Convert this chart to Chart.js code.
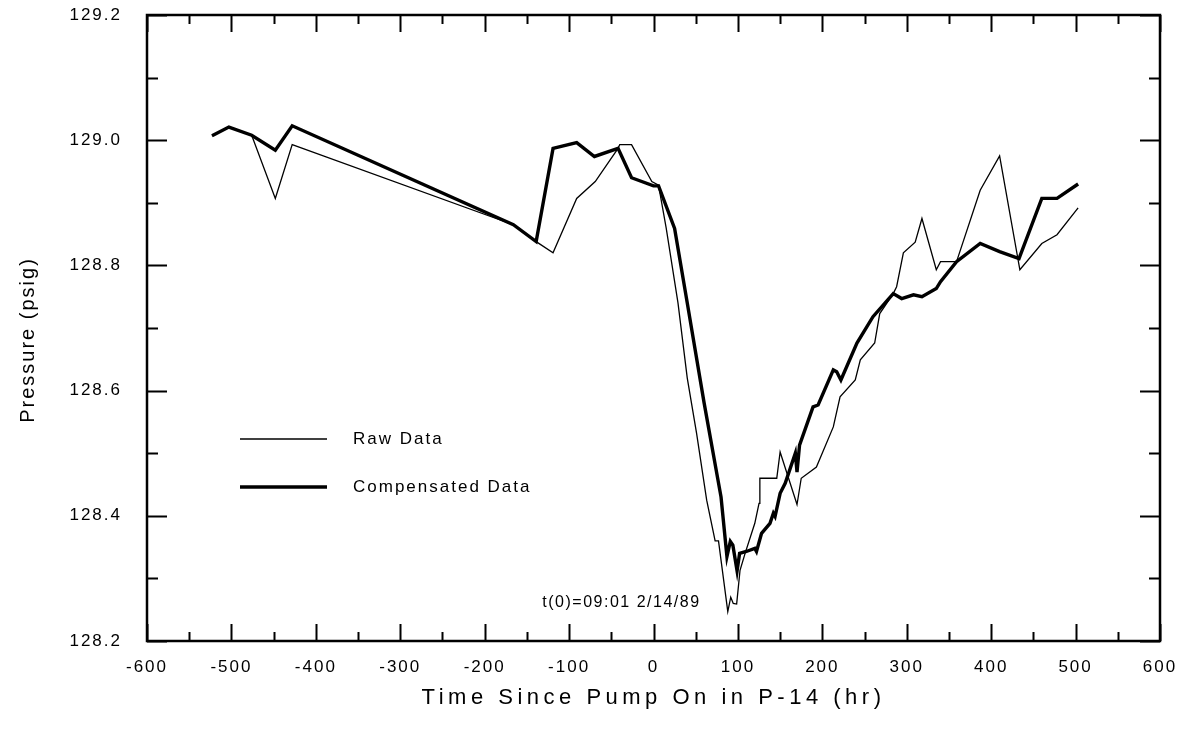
<!DOCTYPE html>
<html>
<head>
<meta charset="utf-8">
<title>Pressure vs time</title>
<script src="https://cdn.jsdelivr.net/npm/chart.js@4.4.1/dist/chart.umd.min.js"></script>
<style>
  body { margin: 0; background: #fff; }
  #chart-container { width: 1184px; height: 739px; }
</style>
</head>
<body>
<div id="chart-container"><canvas id="pressureChart" width="1184" height="739"></canvas></div>
<script>
// values
const rawHours = [-523, -503, -476, -448, -428, -166, -139, -119, -91, -69, -42, -40, -26, -2, 6,
    15, 29, 40, 51, 63, 73, 77, 88, 91.5, 94.5, 98.5, 102.5, 108.5, 120, 125, 126, 146, 150,
    170, 175, 193, 213, 221, 239, 245, 262, 268, 284, 288, 296, 310, 318, 335, 340, 359,
    387, 410, 434, 460, 478, 503];
const rawPsig = [129.007, 129.021, 129.008, 128.907, 128.993, 128.865, 128.838, 128.820, 128.907, 128.934, 128.987, 128.993, 128.993, 128.934, 128.928,
    128.86, 128.74, 128.62, 128.532, 128.425, 128.36, 128.36, 128.247, 128.27, 128.26, 128.259, 128.313, 128.34, 128.388, 128.42, 128.46, 128.46, 128.502,
    128.418, 128.46, 128.478, 128.542, 128.59, 128.617, 128.649, 128.676, 128.723, 128.755, 128.766, 128.82, 128.837, 128.875, 128.793, 128.806, 128.806,
    128.92, 128.975, 128.793, 128.835, 128.849, 128.892];

const compHours = [-523, -503, -476, -448, -428, -166, -139, -119, -91, -70, -42, -26, 0, 6,
    25, 40, 60, 76, 80, 87, 91, 94, 99, 102, 110, 120, 122, 128, 138, 142, 144, 150, 156,
    168, 170, 173, 189, 195, 213, 217, 222, 241, 260, 284, 294, 308, 318, 335, 340, 359,
    387, 410, 433, 460, 478, 503];
const compPsig = [129.007, 129.021, 129.008, 128.984, 129.023, 128.865, 128.838, 128.987, 128.996, 128.974, 128.987, 128.940, 128.927, 128.927,
    128.859, 128.74, 128.58, 128.46, 128.43, 128.335, 128.359, 128.353, 128.312, 128.34, 128.343, 128.348, 128.343, 128.372, 128.388, 128.404, 128.399, 128.436, 128.452,
    128.50, 128.47, 128.513, 128.574, 128.577, 128.633, 128.63, 128.617, 128.676, 128.718, 128.755, 128.747, 128.753, 128.75, 128.763, 128.774, 128.806,
    128.835, 128.822, 128.811, 128.907, 128.907, 128.93];

const seriesLabels = ['Raw Data', 'Compensated Data'];
const xTitle = 'Time Since Pump On in P-14 (hr)';
const yTitle = 'Pressure (psig)';
const startNote = 't(0)=09:01 2/14/89';

const FONT = '"Liberation Sans", Arial, sans-serif';

function toPoints(xs, ys) {
    return xs.map((x, i) => ({ x: x, y: ys[i] }));
}

// frame, inward ticks, titles, legend and note
const decorations = {
    id: 'decorations',
    beforeDraw(chart) {
        chart.ctx.letterSpacing = '2px';
    },
    afterDraw(chart) {
        const ctx = chart.ctx;
        const a = chart.chartArea;
        const xs = chart.scales.x;
        const ys = chart.scales.y;
        ctx.save();
        ctx.strokeStyle = '#000';
        ctx.fillStyle = '#000';

        ctx.lineWidth = 2;
        xs.ticks.forEach(t => {
            const px = Math.round(xs.getPixelForValue(t.value)) + 0.5;
            const len = Math.round(t.value) % 100 === 0 ? 17 : 9;
            ctx.beginPath();
            ctx.moveTo(px, a.bottom); ctx.lineTo(px, a.bottom - len);
            ctx.moveTo(px, a.top); ctx.lineTo(px, a.top + len);
            ctx.stroke();
        });
        ys.ticks.forEach(t => {
            const py = Math.round(ys.getPixelForValue(t.value)) + 0.5;
            const len = Math.round(t.value * 10) % 2 === 0 ? 20 : 11;
            ctx.beginPath();
            ctx.moveTo(a.left, py); ctx.lineTo(a.left + len, py);
            ctx.moveTo(a.right, py); ctx.lineTo(a.right - len, py);
            ctx.stroke();
        });

        ctx.lineWidth = 2.5;
        ctx.strokeRect(a.left, a.top, a.right - a.left, a.bottom - a.top);

        // axis titles
        ctx.textAlign = 'center';
        ctx.textBaseline = 'middle';
        ctx.font = '22px ' + FONT;
        ctx.letterSpacing = '4.5px';
        ctx.fillText(xTitle, (a.left + a.right) / 2, 698);
        ctx.save();
        ctx.translate(28, (a.top + a.bottom) / 2 + 12);
        ctx.rotate(-Math.PI / 2);
        ctx.font = '20px ' + FONT;
        ctx.letterSpacing = '2px';
        ctx.fillText(yTitle, 0, 0);
        ctx.restore();

        // legend
        ctx.textAlign = 'left';
        ctx.font = '17px ' + FONT;
        ctx.letterSpacing = '2px';
        chart.data.datasets.forEach((ds, i) => {
            const y = 439 + i * 48;
            ctx.lineWidth = ds.borderWidth;
            ctx.beginPath();
            ctx.moveTo(240, y); ctx.lineTo(327, y);
            ctx.stroke();
            ctx.fillText(ds.label, 353, y);
        });

        // time origin note
        ctx.textAlign = 'center';
        ctx.font = '16px ' + FONT;
        ctx.letterSpacing = '1.5px';
        ctx.fillText(startNote, xs.getPixelForValue(-38), ys.getPixelForValue(128.262));
        ctx.restore();
    }
};

const ctx = document.getElementById('pressureChart').getContext('2d');
new Chart(ctx, {
    type: 'line',
    data: {
        datasets: [
            {
                label: seriesLabels[0],
                data: toPoints(rawHours, rawPsig),
                borderColor: '#000',
                borderWidth: 1.3,
                pointRadius: 0,
                tension: 0,
                order: 1
            },
            {
                label: seriesLabels[1],
                data: toPoints(compHours, compPsig),
                borderColor: '#000',
                borderWidth: 3.4,
                pointRadius: 0,
                tension: 0,
                order: 0
            }
        ]
    },
    options: {
        responsive: false,
        devicePixelRatio: 1,
        animation: false,
        layout: { padding: { top: 15, right: 24, left: 0, bottom: 0 } },
        plugins: {
            legend: { display: false },
            tooltip: { enabled: false }
        },
        scales: {
            x: {
                type: 'linear',
                min: -600,
                max: 600,
                grid: { display: false, drawTicks: false },
                border: { display: false },
                ticks: {
                    stepSize: 50,
                    autoSkip: false,
                    maxRotation: 0,
                    padding: 16,
                    color: '#000',
                    font: { family: FONT, size: 17 },
                    callback: v => (Math.round(v) % 100 === 0 ? String(Math.round(v)) : '')
                },
                afterFit: s => {
                    s.height = 98;
                    s.paddingLeft = 0;
                    s.paddingRight = 0;
                }
            },
            y: {
                min: 128.2,
                max: 129.2,
                grid: { display: false, drawTicks: false },
                border: { display: false },
                ticks: {
                    stepSize: 0.1,
                    autoSkip: false,
                    padding: 25,
                    color: '#000',
                    font: { family: FONT, size: 17 },
                    callback: v => (Math.round(v * 10) % 2 === 0 ? v.toFixed(1) : '')
                },
                afterFit: s => {
                    s.width = 147;
                    s.paddingTop = 0;
                    s.paddingBottom = 0;
                }
            }
        }
    },
    plugins: [decorations]
});
</script>
</body>
</html>
